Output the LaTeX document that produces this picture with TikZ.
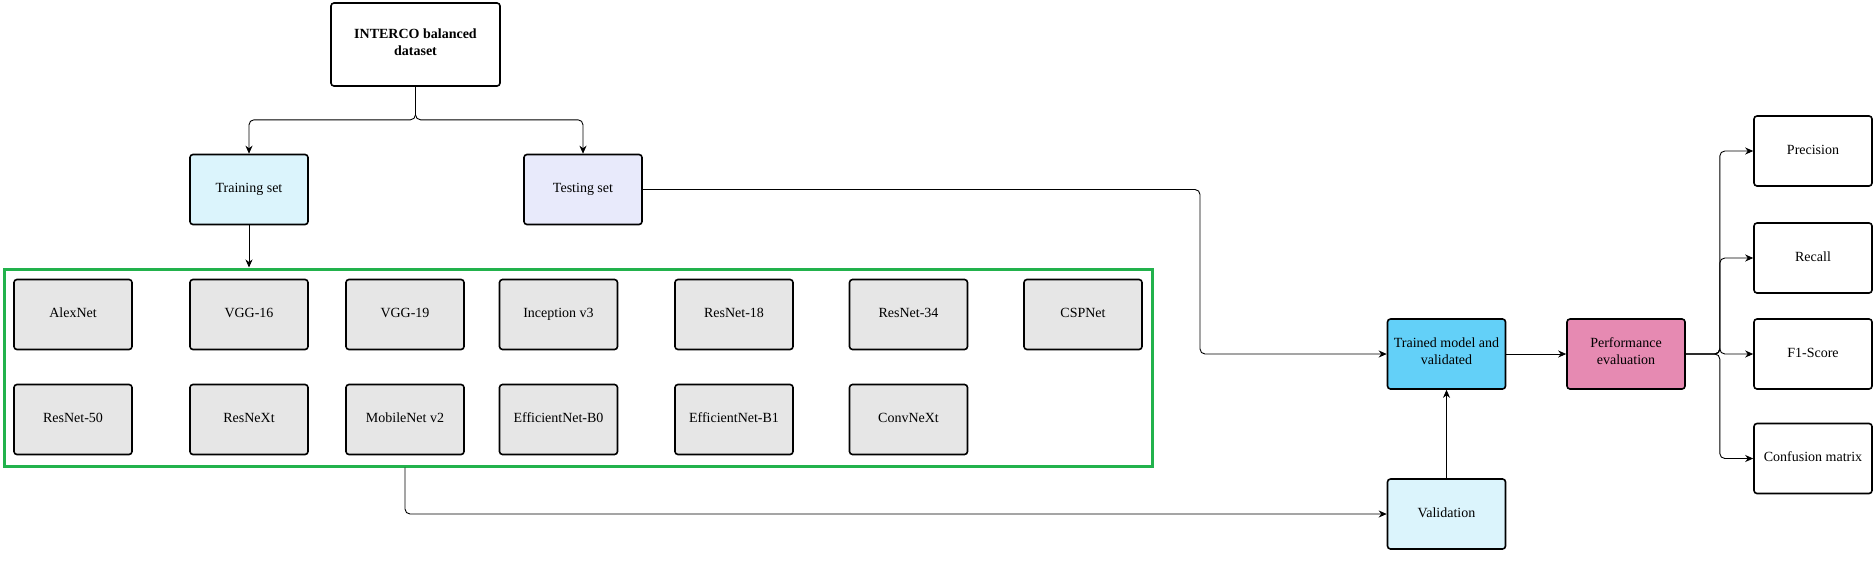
\documentclass[tikz,border=0pt]{standalone}
\usepackage{fontspec}
\setmainfont{Liberation Serif}
\usetikzlibrary{arrows.meta}

\definecolor{trainblue}{HTML}{DBF4FC}
\definecolor{testlilac}{HTML}{E8EAFB}
\definecolor{trainedblue}{HTML}{63D0F8}
\definecolor{perfpink}{HTML}{E68AB2}
\definecolor{netgrey}{HTML}{E6E6E6}
\definecolor{framegreen}{HTML}{22B24C}

\begin{document}
\begin{tikzpicture}[x=1pt,y=-1pt,
    box/.style={draw,line width=1.6pt,rounded corners=3pt,minimum width=118pt,minimum height=70pt,align=center,
        font=\fontsize{14}{17}\selectfont,execute at begin node=\strut,execute at end node=\strut},
    netbox/.style={box,fill=netgrey},
    conn/.style={line width=0.9pt,-{Stealth[length=8pt,width=7pt,inset=2.5pt]},rounded corners=5pt}]
        \useasboundingbox (0,0) rectangle (1876,560);
        % data split
        \node[box,minimum width=169pt,minimum height=83pt,font=\fontsize{14}{17}\selectfont\bfseries] (data) at (415.5,44.5) {INTERCO balanced\\dataset};
        \node[box,fill=trainblue] (train) at (249,189.5) {Training set};
        \node[box,fill=testlilac] (test)  at (583,189.5) {Testing set};
        % models
        \node[draw=framegreen,line width=3pt,minimum width=1148pt,minimum height=197pt] (models) at (578,367.5) {};
        \foreach \name/\txt/\x/\y in {alex/AlexNet/73/314.5, vggA/VGG-16/249/314.5, vggB/VGG-19/405/314.5,
            incep/Inception v3/558.5/314.5, resA/ResNet-18/734/314.5, resB/ResNet-34/908.5/314.5, csp/CSPNet/1083/314.5,
            resC/ResNet-50/73/419.5, resnext/ResNeXt/249/419.5, mobile/MobileNet v2/405/419.5,
            effA/EfficientNet-B0/558.5/419.5, effB/EfficientNet-B1/734/419.5, convnext/ConvNeXt/908.5/419.5}
            \node[netbox] (\name) at (\x,\y) {\txt};
        % evaluation
        \node[box,fill=trainedblue] (trained) at (1446.5,354) {Trained model and\\validated};
        \node[box,fill=perfpink]    (perf)    at (1626,354)   {Performance\\evaluation};
        \node[box,fill=trainblue]   (valid)   at (1446.5,514) {Validation};
        \node[box] (prec)   at (1813,151)   {Precision};
        \node[box] (recall) at (1813,258)   {Recall};
        \node[box] (fscore) at (1813,354)   {F1-Score};
        \node[box] (confm)  at (1813,458.5) {Confusion matrix};
        \coordinate (tbend) at (1200,0);

        \draw[conn] (data.south) -- ++(0,33) -| (train.north);
        \draw[conn] (data.south) -- ++(0,33) -| (test.north);
        \draw[conn] (train.south) -- (train.south |- models.north);
        \draw[conn] (test.east) -- (test.east -| tbend) |- (trained.west);
        \draw[conn] (models.south -| mobile) |- (valid.west);
        \draw[conn] (valid.north) -- (trained.south);
        \draw[conn] (trained.east) -- (perf.west);
        \foreach \out in {prec,recall,fscore,confm}
            \draw[conn] (perf.east) -- ++(34,0) |- (\out.west);
      \end{tikzpicture}
\end{document}
